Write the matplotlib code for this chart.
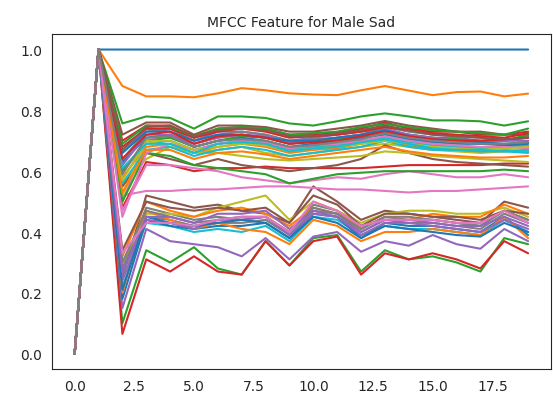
import matplotlib
matplotlib.use('Agg')
import matplotlib.pyplot as plt
import seaborn as sns
import numpy as np

# frame index on the x axis
frames = list(range(20))

# normalised MFCC curves, one list per coefficient
c00 = [0, 1, 1.00, 1.00, 1.00, 1.00, 1.00, 1.00, 1.00, 1.00, 1.00, 1.00, 1.00, 1.00, 1.00, 1.00, 1.00, 1.00, 1.00, 1.00]
c01 = [0, 1, 0.88, 0.846, 0.846, 0.843, 0.856, 0.873, 0.866, 0.856, 0.852, 0.85, 0.866, 0.88, 0.865, 0.85, 0.86, 0.862, 0.846, 0.855]
c02 = [0, 1, 0.757, 0.78, 0.775, 0.74, 0.78, 0.78, 0.775, 0.757, 0.75, 0.764, 0.78, 0.79, 0.78, 0.767, 0.767, 0.764, 0.75, 0.764]
c03 = [0, 1, 0.70, 0.75, 0.75, 0.71, 0.74, 0.745, 0.74, 0.72, 0.72, 0.725, 0.74, 0.76, 0.74, 0.73, 0.73, 0.72, 0.72, 0.73]
c04 = [0, 1, 0.66, 0.74, 0.73, 0.70, 0.73, 0.73, 0.72, 0.70, 0.71, 0.72, 0.73, 0.74, 0.72, 0.71, 0.71, 0.70, 0.70, 0.71]
c05 = [0, 1, 0.72, 0.76, 0.76, 0.72, 0.75, 0.75, 0.745, 0.73, 0.73, 0.74, 0.75, 0.765, 0.75, 0.74, 0.73, 0.73, 0.72, 0.72]
c06 = [0, 1, 0.50, 0.70, 0.72, 0.69, 0.71, 0.72, 0.71, 0.69, 0.70, 0.70, 0.72, 0.73, 0.71, 0.70, 0.70, 0.69, 0.69, 0.68]
c07 = [0, 1, 0.64, 0.73, 0.74, 0.70, 0.72, 0.73, 0.72, 0.70, 0.705, 0.71, 0.72, 0.745, 0.73, 0.72, 0.715, 0.71, 0.70, 0.715]
c08 = [0, 1, 0.55, 0.64, 0.68, 0.66, 0.67, 0.68, 0.66, 0.65, 0.66, 0.67, 0.68, 0.69, 0.68, 0.67, 0.665, 0.66, 0.665, 0.67]
c09 = [0, 1, 0.60, 0.69, 0.70, 0.67, 0.69, 0.70, 0.69, 0.67, 0.68, 0.685, 0.70, 0.71, 0.695, 0.685, 0.68, 0.675, 0.68, 0.685]
c10 = [0, 1, 0.63, 0.71, 0.72, 0.68, 0.70, 0.71, 0.70, 0.68, 0.69, 0.70, 0.71, 0.72, 0.705, 0.695, 0.69, 0.69, 0.685, 0.69]
c11 = [0, 1, 0.58, 0.68, 0.69, 0.66, 0.68, 0.69, 0.68, 0.66, 0.67, 0.675, 0.69, 0.70, 0.685, 0.675, 0.67, 0.665, 0.67, 0.665]
c12 = [0, 1, 0.10, 0.34, 0.30, 0.35, 0.28, 0.26, 0.37, 0.29, 0.38, 0.39, 0.27, 0.34, 0.31, 0.32, 0.30, 0.27, 0.38, 0.36]
c13 = [0, 1, 0.065, 0.31, 0.27, 0.32, 0.27, 0.26, 0.37, 0.29, 0.37, 0.385, 0.26, 0.33, 0.31, 0.33, 0.31, 0.28, 0.37, 0.33]
c14 = [0, 1, 0.15, 0.41, 0.37, 0.36, 0.35, 0.32, 0.38, 0.31, 0.385, 0.40, 0.335, 0.37, 0.355, 0.39, 0.36, 0.345, 0.41, 0.37]
c15 = [0, 1, 0.25, 0.52, 0.50, 0.48, 0.49, 0.47, 0.46, 0.43, 0.55, 0.50, 0.44, 0.47, 0.46, 0.45, 0.44, 0.43, 0.50, 0.48]
c16 = [0, 1, 0.52, 0.535, 0.535, 0.54, 0.54, 0.545, 0.55, 0.55, 0.545, 0.54, 0.54, 0.535, 0.53, 0.535, 0.535, 0.54, 0.545, 0.55]
c17 = [0, 1, 0.28, 0.48, 0.46, 0.44, 0.45, 0.44, 0.45, 0.40, 0.49, 0.47, 0.41, 0.45, 0.44, 0.44, 0.43, 0.42, 0.47, 0.44]
c18 = [0, 1, 0.30, 0.46, 0.46, 0.45, 0.48, 0.50, 0.52, 0.44, 0.50, 0.47, 0.43, 0.46, 0.47, 0.47, 0.46, 0.46, 0.48, 0.45]
c19 = [0, 1, 0.22, 0.43, 0.42, 0.40, 0.41, 0.40, 0.42, 0.37, 0.45, 0.44, 0.39, 0.42, 0.41, 0.41, 0.40, 0.39, 0.44, 0.40]
c20 = [0, 1, 0.18, 0.44, 0.42, 0.41, 0.42, 0.42, 0.43, 0.38, 0.46, 0.45, 0.38, 0.43, 0.42, 0.42, 0.41, 0.40, 0.45, 0.39]
c21 = [0, 1, 0.32, 0.50, 0.47, 0.45, 0.47, 0.48, 0.46, 0.42, 0.48, 0.46, 0.42, 0.44, 0.44, 0.46, 0.45, 0.45, 0.49, 0.46]
c22 = [0, 1, 0.60, 0.70, 0.71, 0.68, 0.70, 0.715, 0.71, 0.69, 0.70, 0.705, 0.715, 0.73, 0.72, 0.71, 0.705, 0.70, 0.70, 0.72]
c23 = [0, 1, 0.48, 0.63, 0.62, 0.60, 0.61, 0.61, 0.615, 0.61, 0.61, 0.61, 0.61, 0.615, 0.62, 0.62, 0.62, 0.62, 0.625, 0.625]
c24 = [0, 1, 0.62, 0.72, 0.72, 0.69, 0.71, 0.72, 0.715, 0.695, 0.70, 0.71, 0.72, 0.735, 0.72, 0.71, 0.70, 0.695, 0.70, 0.70]
c25 = [0, 1, 0.55, 0.66, 0.64, 0.62, 0.64, 0.62, 0.61, 0.60, 0.61, 0.62, 0.64, 0.685, 0.66, 0.64, 0.63, 0.625, 0.62, 0.615]
c26 = [0, 1, 0.47, 0.62, 0.62, 0.61, 0.60, 0.58, 0.57, 0.56, 0.57, 0.58, 0.575, 0.59, 0.60, 0.59, 0.58, 0.58, 0.59, 0.58]
c27 = [0, 1, 0.26, 0.45, 0.44, 0.42, 0.43, 0.43, 0.44, 0.39, 0.47, 0.46, 0.40, 0.44, 0.43, 0.43, 0.42, 0.41, 0.46, 0.43]
c28 = [0, 1, 0.52, 0.70, 0.68, 0.66, 0.66, 0.65, 0.64, 0.635, 0.64, 0.645, 0.65, 0.665, 0.66, 0.65, 0.645, 0.64, 0.635, 0.63]
c29 = [0, 1, 0.56, 0.67, 0.68, 0.65, 0.67, 0.68, 0.67, 0.65, 0.66, 0.67, 0.68, 0.70, 0.68, 0.67, 0.67, 0.665, 0.665, 0.67]
c30 = [0, 1, 0.66, 0.73, 0.73, 0.70, 0.72, 0.72, 0.71, 0.70, 0.70, 0.71, 0.72, 0.735, 0.715, 0.70, 0.70, 0.695, 0.69, 0.695]
c31 = [0, 1, 0.20, 0.47, 0.44, 0.41, 0.43, 0.41, 0.40, 0.36, 0.44, 0.42, 0.37, 0.40, 0.40, 0.41, 0.40, 0.39, 0.45, 0.38]
c32 = [0, 1, 0.50, 0.66, 0.65, 0.62, 0.61, 0.60, 0.59, 0.56, 0.575, 0.59, 0.595, 0.60, 0.60, 0.60, 0.60, 0.60, 0.605, 0.60]
c33 = [0, 1, 0.68, 0.74, 0.74, 0.71, 0.73, 0.74, 0.73, 0.71, 0.715, 0.72, 0.73, 0.745, 0.735, 0.725, 0.72, 0.715, 0.71, 0.725]
c34 = [0, 1, 0.24, 0.44, 0.43, 0.41, 0.44, 0.44, 0.45, 0.39, 0.46, 0.45, 0.39, 0.43, 0.43, 0.42, 0.41, 0.40, 0.44, 0.41]
c35 = [0, 1, 0.34, 0.50, 0.48, 0.47, 0.48, 0.47, 0.48, 0.43, 0.52, 0.49, 0.42, 0.46, 0.46, 0.45, 0.45, 0.44, 0.47, 0.46]
c36 = [0, 1, 0.45, 0.66, 0.69, 0.67, 0.69, 0.70, 0.695, 0.675, 0.685, 0.69, 0.70, 0.715, 0.70, 0.69, 0.685, 0.68, 0.68, 0.675]
c37 = [0, 1, 0.30, 0.47, 0.45, 0.43, 0.44, 0.45, 0.45, 0.40, 0.48, 0.46, 0.41, 0.45, 0.45, 0.44, 0.43, 0.42, 0.47, 0.44]
c38 = [0, 1, 0.57, 0.70, 0.70, 0.67, 0.68, 0.69, 0.685, 0.665, 0.675, 0.68, 0.69, 0.70, 0.69, 0.68, 0.675, 0.67, 0.675, 0.68]
c39 = [0, 1, 0.61, 0.69, 0.69, 0.66, 0.69, 0.695, 0.69, 0.665, 0.675, 0.68, 0.695, 0.705, 0.69, 0.675, 0.67, 0.67, 0.665, 0.66]
c40 = [0, 1, 0.21, 0.45, 0.43, 0.42, 0.43, 0.44, 0.43, 0.38, 0.45, 0.43, 0.38, 0.42, 0.41, 0.40, 0.39, 0.385, 0.43, 0.40]
c41 = [0, 1, 0.53, 0.67, 0.67, 0.64, 0.66, 0.665, 0.655, 0.64, 0.65, 0.66, 0.67, 0.68, 0.665, 0.655, 0.65, 0.645, 0.645, 0.65]
c42 = [0, 1, 0.69, 0.75, 0.745, 0.715, 0.74, 0.745, 0.74, 0.72, 0.725, 0.73, 0.745, 0.755, 0.745, 0.735, 0.73, 0.725, 0.72, 0.74]
c43 = [0, 1, 0.64, 0.72, 0.73, 0.69, 0.715, 0.72, 0.71, 0.69, 0.695, 0.70, 0.715, 0.73, 0.715, 0.705, 0.70, 0.70, 0.705, 0.71]
c44 = [0, 1, 0.27, 0.45, 0.45, 0.43, 0.46, 0.46, 0.47, 0.41, 0.47, 0.45, 0.40, 0.44, 0.44, 0.43, 0.42, 0.42, 0.45, 0.42]
c45 = [0, 1, 0.67, 0.745, 0.75, 0.715, 0.735, 0.74, 0.735, 0.715, 0.715, 0.725, 0.735, 0.75, 0.735, 0.72, 0.715, 0.71, 0.705, 0.71]
c46 = [0, 1, 0.33, 0.43, 0.43, 0.42, 0.44, 0.45, 0.45, 0.40, 0.50, 0.47, 0.42, 0.44, 0.44, 0.44, 0.43, 0.43, 0.47, 0.43]
c47 = [0, 1, 0.59, 0.71, 0.715, 0.68, 0.70, 0.705, 0.70, 0.68, 0.685, 0.695, 0.705, 0.725, 0.71, 0.70, 0.695, 0.69, 0.69, 0.695]

coeffs = [c00, c01, c02, c03, c04, c05, c06, c07, c08, c09, c10, c11,
          c12, c13, c14, c15, c16, c17, c18, c19, c20, c21, c22, c23,
          c24, c25, c26, c27, c28, c29, c30, c31, c32, c33, c34, c35,
          c36, c37, c38, c39, c40, c41, c42, c43, c44, c45, c46, c47]

sns.set_style('white')
plt.rcParams['font.family'] = ['DejaVu Sans']

fig, ax = plt.subplots(figsize=(5.53, 4.06), dpi=100)
fig.subplots_adjust(left=0.094, right=0.996, bottom=0.089, top=0.913)

# same as plt.plot(df) on a frames x coefficients table
data = np.array(coeffs).T
ax.plot(frames, data, linewidth=1.5)

ax.set_title('MFCC Feature for Male Sad', fontsize=10)
ax.tick_params(labelsize=10)

plt.savefig('out.png', dpi=100)
